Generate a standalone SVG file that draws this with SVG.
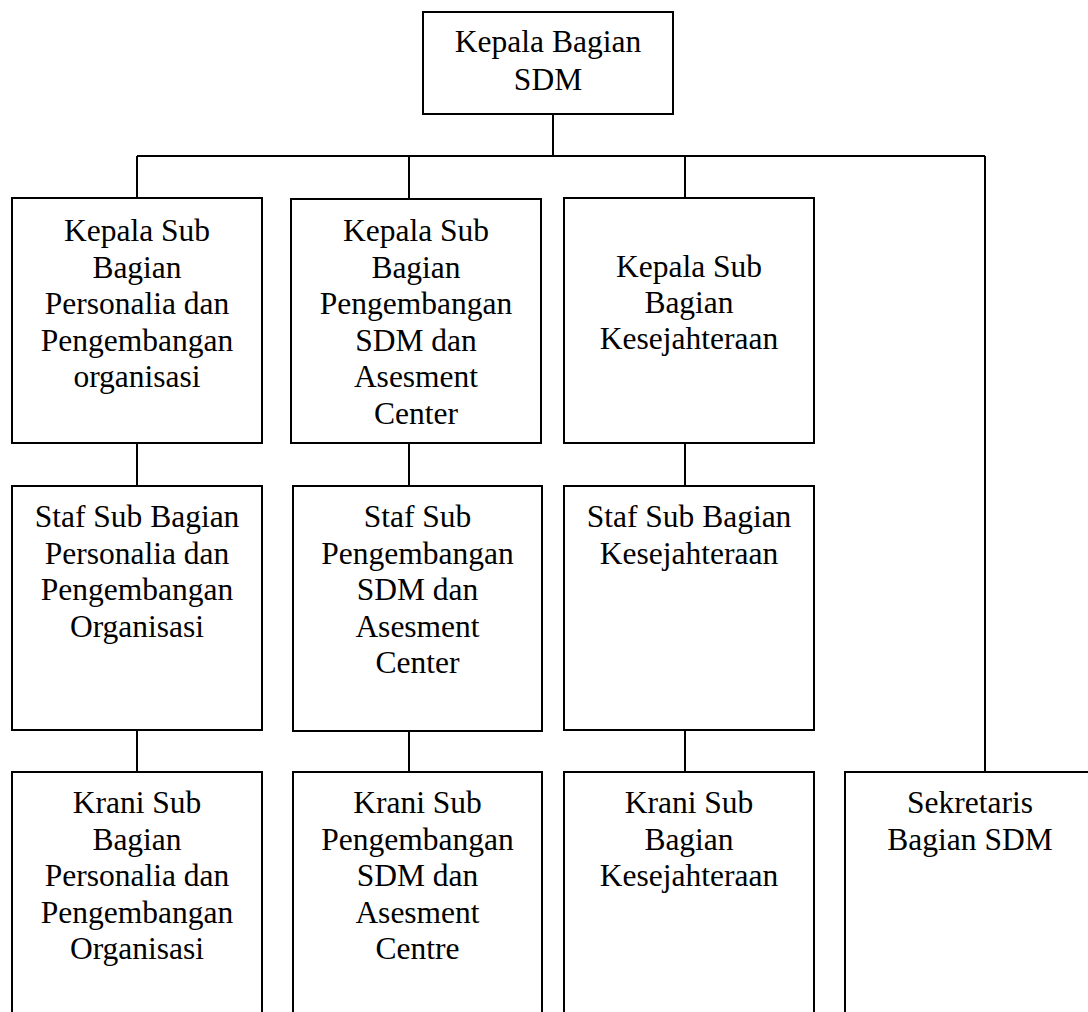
<svg xmlns="http://www.w3.org/2000/svg" width="1088" height="1012" viewBox="0 0 1088 1012">
<style>
.box{fill:#fff;stroke:#000;stroke-width:2}
.ln{fill:none;stroke:#000;stroke-width:2}
text{font-family:"Liberation Serif","Times New Roman",serif;font-size:31.5px;fill:#000;text-anchor:middle}
</style>
<rect width="1088" height="1012" fill="#fff"/>
<g id="connectors">
<path class="ln" d="M553 114V156M137 156H985M137 156V198M409 156V199M685 156V198M985 156V772"/>
<path class="ln" d="M137 443V486M409 443V486M685 443V486M137 730V772M409 731V772M685 730V772"/>
</g>
<g id="n-kepala-bagian">
<rect class="box" x="423" y="12" width="250" height="102"/>
<text x="548" y="52">Kepala Bagian</text>
<text x="548" y="90">SDM</text>
</g>
<g id="n-kasub-personalia">
<rect class="box" x="12" y="198" width="250" height="245"/>
<text x="137" y="241">Kepala Sub</text>
<text x="137" y="277.5">Bagian</text>
<text x="137" y="314">Personalia dan</text>
<text x="137" y="350.5">Pengembangan</text>
<text x="137" y="387">organisasi</text>
</g>
<g id="n-kasub-pengembangan">
<rect class="box" x="291" y="199" width="250" height="244"/>
<text x="416" y="241">Kepala Sub</text>
<text x="416" y="277.5">Bagian</text>
<text x="416" y="314">Pengembangan</text>
<text x="416" y="350.5">SDM dan</text>
<text x="416" y="387">Asesment</text>
<text x="416" y="423.5">Center</text>
</g>
<g id="n-kasub-kesejahteraan">
<rect class="box" x="564" y="198" width="250" height="245"/>
<text x="689" y="277">Kepala Sub</text>
<text x="689" y="313">Bagian</text>
<text x="689" y="349">Kesejahteraan</text>
</g>
<g id="n-staf-personalia">
<rect class="box" x="12" y="486" width="250" height="244"/>
<text x="137" y="527">Staf Sub Bagian</text>
<text x="137" y="563.5">Personalia dan</text>
<text x="137" y="600">Pengembangan</text>
<text x="137" y="636.5">Organisasi</text>
</g>
<g id="n-staf-pengembangan">
<rect class="box" x="293" y="486" width="249" height="245"/>
<text x="417.5" y="527">Staf Sub</text>
<text x="417.5" y="563.5">Pengembangan</text>
<text x="417.5" y="600">SDM dan</text>
<text x="417.5" y="636.5">Asesment</text>
<text x="417.5" y="673">Center</text>
</g>
<g id="n-staf-kesejahteraan">
<rect class="box" x="564" y="486" width="250" height="244"/>
<text x="689" y="527">Staf Sub Bagian</text>
<text x="689" y="563.5">Kesejahteraan</text>
</g>
<g id="n-krani-personalia">
<rect class="box" x="12" y="772" width="250" height="260"/>
<text x="137" y="813">Krani Sub</text>
<text x="137" y="849.5">Bagian</text>
<text x="137" y="886">Personalia dan</text>
<text x="137" y="922.5">Pengembangan</text>
<text x="137" y="959">Organisasi</text>
</g>
<g id="n-krani-pengembangan">
<rect class="box" x="293" y="772" width="249" height="260"/>
<text x="417.5" y="813">Krani Sub</text>
<text x="417.5" y="849.5">Pengembangan</text>
<text x="417.5" y="886">SDM dan</text>
<text x="417.5" y="922.5">Asesment</text>
<text x="417.5" y="959">Centre</text>
</g>
<g id="n-krani-kesejahteraan">
<rect class="box" x="564" y="772" width="250" height="260"/>
<text x="689" y="813">Krani Sub</text>
<text x="689" y="849.5">Bagian</text>
<text x="689" y="886">Kesejahteraan</text>
</g>
<g id="n-sekretaris">
<rect class="box" x="845" y="772" width="250" height="260"/>
<text x="970" y="813">Sekretaris</text>
<text x="970" y="849.5">Bagian SDM</text>
</g>
</svg>
